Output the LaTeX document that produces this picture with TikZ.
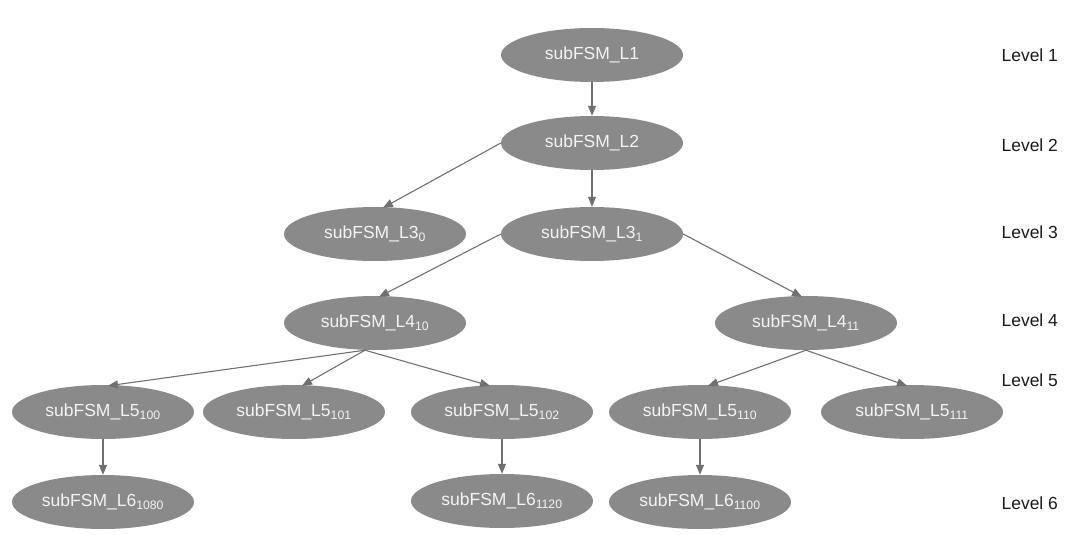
\documentclass[tikz,border=0pt]{standalone}
\usepackage{fontspec}
\setmainfont{Liberation Sans}
\usetikzlibrary{shapes.geometric,arrows.meta,calc}
\definecolor{nodefill}{HTML}{8A8A8A}
\definecolor{nodetext}{HTML}{F4F4F4}
\definecolor{edgecol}{HTML}{707070}
\definecolor{lvltext}{HTML}{1A1A1A}
\begin{document}
\begin{tikzpicture}[x=1pt,y=-1pt,
  fsm/.style={ellipse,fill=nodefill,draw=none,minimum width=182pt,minimum height=54pt,inner sep=0pt,text=nodetext,font=\fontsize{17.5}{20}\selectfont},
  lvl/.style={anchor=west,text=lvltext,font=\fontsize{17.5}{20}\selectfont},
  edge/.style={draw=edgecol,line width=1.1pt,-{Triangle[length=10pt,width=8pt]}}]
\useasboundingbox (0,0) rectangle (1074,535);
\node[fsm] (L1) at (592,55) {subFSM\_L1};
\node[fsm] (L2) at (592,143) {subFSM\_L2};
\node[fsm] (L30) at (375,234) {subFSM\_L3\textsubscript{0}};
\node[fsm] (L31) at (592,234) {subFSM\_L3\textsubscript{1}};
\node[fsm] (L410) at (375,323) {subFSM\_L4\textsubscript{10}};
\node[fsm] (L411) at (806,323) {subFSM\_L4\textsubscript{11}};
\node[fsm] (L5100) at (103,412) {subFSM\_L5\textsubscript{100}};
\node[fsm] (L5101) at (294,412) {subFSM\_L5\textsubscript{101}};
\node[fsm] (L5102) at (502,412) {subFSM\_L5\textsubscript{102}};
\node[fsm] (L5110) at (700,412) {subFSM\_L5\textsubscript{110}};
\node[fsm] (L5111) at (912,412) {subFSM\_L5\textsubscript{111}};
\node[fsm] (L61080) at (103,502) {subFSM\_L6\textsubscript{1080}};
\node[fsm] (L61120) at (502,501) {subFSM\_L6\textsubscript{1120}};
\node[fsm] (L61100) at (700,502) {subFSM\_L6\textsubscript{1100}};
\node[lvl] (V1) at (998,55) {Level 1};
\node[lvl] (V2) at (998,145) {Level 2};
\node[lvl] (V3) at (998,232) {Level 3};
\node[lvl] (V4) at (998,320) {Level 4};
\node[lvl] (V5) at (998,380) {Level 5};
\node[lvl] (V6) at (998,503) {Level 6};
\path[edge] (L1.south) -- (L2.north);
\path[edge] (L2.south) -- (L31.north);
\path[edge] (L2.west) -- ($(L30.north)+(8,1)$);
\path[edge] (L31.west) -- ($(L410.north)+(4,1)$);
\path[edge] (L31.east) -- ($(L411.north)+(-4,1)$);
\coordinate (s410) at ($(L410.south)+(-10,0)$);
\coordinate (s411) at ($(L411.south)+(0,0)$);
\path[edge] (s410) -- ($(L5100.north)+(5,1)$);
\path[edge] (s410) -- ($(L5101.north)+(8,1)$);
\path[edge] (s410) -- ($(L5102.north)+(-12,1)$);
\path[edge] (s411) -- ($(L5110.north)+(8,1)$);
\path[edge] (s411) -- ($(L5111.north)+(-5,1)$);
\path[edge] (L5100.south) -- (L61080.north);
\path[edge] (L5102.south) -- (L61120.north);
\path[edge] (L5110.south) -- (L61100.north);
\end{tikzpicture}
\end{document}
